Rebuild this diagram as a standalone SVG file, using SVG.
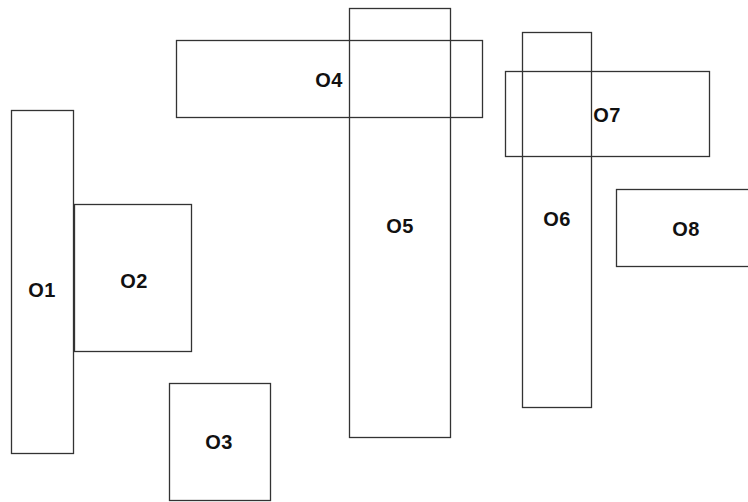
<svg xmlns="http://www.w3.org/2000/svg" width="748" height="502" viewBox="0 0 748 502">
  <style>
    .box { fill: none; stroke: #333; stroke-width: 1.3; }
    .lbl { font-family: "Liberation Sans", Arial, sans-serif; font-size: 20px; font-weight: bold; letter-spacing: 0.5px; fill: #111; text-anchor: middle; dominant-baseline: central; }
  </style>
  <rect width="748" height="502" fill="#fff"/>
  <g id="O1"><rect class="box" x="11.5" y="110.5" width="62" height="343"/><text class="lbl" x="42" y="290">O1</text></g>
  <g id="O2"><rect class="box" x="74.5" y="204.5" width="117" height="147"/><text class="lbl" x="134" y="281">O2</text></g>
  <g id="O3"><rect class="box" x="169.5" y="383.5" width="101" height="117"/><text class="lbl" x="219" y="442">O3</text></g>
  <g id="O4"><rect class="box" x="176.5" y="40.5" width="306" height="77"/><text class="lbl" x="329" y="80">O4</text></g>
  <g id="O5"><rect class="box" x="349.5" y="8.5" width="101" height="429"/><text class="lbl" x="400" y="226">O5</text></g>
  <g id="O6"><rect class="box" x="522.5" y="32.5" width="69" height="375"/><text class="lbl" x="557" y="219">O6</text></g>
  <g id="O7"><rect class="box" x="505.5" y="71.5" width="204" height="85"/><text class="lbl" x="607" y="115">O7</text></g>
  <g id="O8"><rect class="box" x="616.5" y="189.5" width="140" height="77"/><text class="lbl" x="686" y="229">O8</text></g>
  <g id="connectors"/>
</svg>
